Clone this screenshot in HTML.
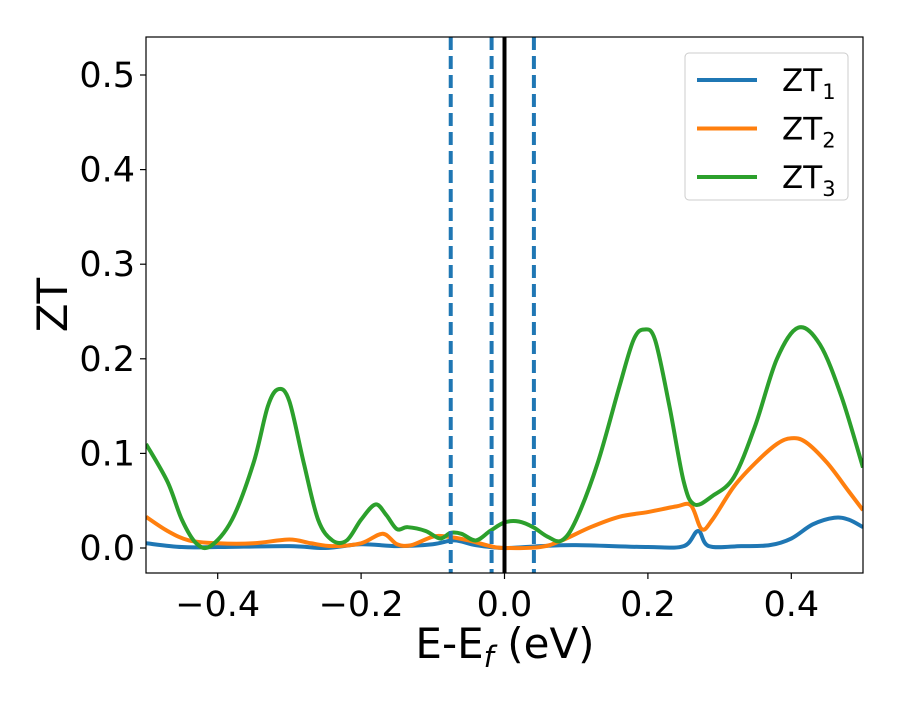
<!DOCTYPE html>
<html><head><meta charset="utf-8"><style>
body{margin:0;background:#fff;}
svg text{font-family:"DejaVu Sans","Liberation Sans",sans-serif;}
</style></head><body>
<svg id="chart" width="900" height="700" xmlns="http://www.w3.org/2000/svg"></svg>
<script>
const xTicks=[-0.4,-0.2,0.0,0.2,0.4];
const xTickLabels=["\u22120.4","\u22120.2","0.0","0.2","0.4"];
const yTicks=[0,0.1,0.2,0.3,0.4,0.5];
const yTickLabels=["0.0","0.1","0.2","0.3","0.4","0.5"];
const vlines=[-0.075,-0.018,0.041];
const zt3X=[-0.5,-0.47,-0.45,-0.43,-0.41,-0.38,-0.35,-0.33,-0.315,-0.30,-0.28,-0.26,-0.24,-0.22,-0.20,-0.18,-0.165,-0.15,-0.135,-0.11,-0.09,-0.075,-0.06,-0.04,-0.02,0.0,0.02,0.04,0.06,0.08,0.10,0.13,0.16,0.18,0.195,0.21,0.23,0.25,0.265,0.29,0.32,0.35,0.38,0.41,0.44,0.47,0.5];
const zt3Y=[0.11,0.07,0.03,0.005,0.002,0.03,0.09,0.15,0.168,0.155,0.09,0.03,0.008,0.008,0.03,0.046,0.035,0.02,0.022,0.018,0.01,0.016,0.015,0.008,0.018,0.027,0.028,0.022,0.012,0.008,0.03,0.09,0.17,0.22,0.231,0.22,0.15,0.07,0.046,0.055,0.075,0.13,0.2,0.233,0.215,0.16,0.085];
const zt2X=[-0.5,-0.47,-0.44,-0.4,-0.35,-0.3,-0.27,-0.24,-0.2,-0.17,-0.15,-0.13,-0.1,-0.08,-0.05,-0.02,0,0.05,0.08,0.12,0.16,0.2,0.24,0.26,0.275,0.29,0.32,0.35,0.38,0.4,0.42,0.45,0.48,0.5];
const zt2Y=[0.033,0.018,0.008,0.005,0.005,0.009,0.005,0.002,0.005,0.015,0.004,0.003,0.012,0.012,0.008,0.002,0.0,0.001,0.008,0.022,0.033,0.038,0.044,0.045,0.02,0.03,0.065,0.09,0.11,0.116,0.112,0.09,0.06,0.04];
const zt1X=[-0.5,-0.45,-0.4,-0.3,-0.25,-0.2,-0.15,-0.1,-0.07,-0.04,0,0.05,0.1,0.2,0.25,0.27,0.285,0.33,0.37,0.4,0.43,0.46,0.48,0.5];
const zt1Y=[0.005,0.001,0.001,0.002,0.0,0.004,0.002,0.004,0.008,0.003,0.0,0.002,0.003,0.001,0.002,0.018,0.002,0.002,0.003,0.01,0.025,0.032,0.03,0.022];
const L=146,R=863,T=37,B=573;
const sx=v=>L+(v+0.5)*(R-L);
const sy=v=>548-v*946;
const svg=document.getElementById('chart');
const NS='http://www.w3.org/2000/svg';
function mk(tag,attrs,parent){const e=document.createElementNS(NS,tag);for(const k in attrs)e.setAttribute(k,attrs[k]);(parent||svg).appendChild(e);return e;}
const clip=mk('clipPath',{id:'clip'});mk('rect',{x:L,y:T,width:R-L,height:B-T},clip);
function pathFor(xs,ys){const p=xs.map((x,i)=>[sx(x),sy(ys[i])]);let d='M'+p[0][0]+','+p[0][1];
for(let i=0;i<p.length-1;i++){const p0=p[i-1]||p[i],p1=p[i],p2=p[i+1],p3=p[i+2]||p2;
d+=' C'+(p1[0]+(p2[0]-p0[0])/6)+','+(p1[1]+(p2[1]-p0[1])/6)+' '+(p2[0]-(p3[0]-p1[0])/6)+','+(p2[1]-(p3[1]-p1[1])/6)+' '+p2[0]+','+p2[1];}return d;}
const g=mk('g',{'clip-path':'url(#clip)'});
const series=[[zt1X,zt1Y,'#1f77b4','zt1-line'],[zt2X,zt2Y,'#ff7f0e','zt2-line'],[zt3X,zt3Y,'#2ca02c','zt3-line']];
series.forEach(s=>{const e=mk('path',{d:pathFor(s[0],s[1]),fill:'none',stroke:s[2],'stroke-width':4},g);
});
vlines.forEach(v=>{const e=mk('line',{x1:sx(v),x2:sx(v),y1:T,y2:B,stroke:'#1f77b4','stroke-width':4,'stroke-dasharray':'13,6'},g);
});
const fl=mk('line',{x1:sx(0),x2:sx(0),y1:T,y2:B,stroke:'#000','stroke-width':4},g);

const fr=mk('rect',{x:L,y:T,width:R-L,height:B-T,fill:'none',stroke:'#000','stroke-width':1.2});

xTicks.forEach((v,i)=>{mk('line',{x1:sx(v),x2:sx(v),y1:B,y2:B+6,stroke:'#000','stroke-width':1.2});
const t=mk('text',{x:sx(v),y:B+43,'font-size':35,'text-anchor':'middle'});t.textContent=xTickLabels[i];
});
yTicks.forEach((v,i)=>{mk('line',{x1:L-6,x2:L,y1:sy(v),y2:sy(v),stroke:'#000','stroke-width':1.2});
const t=mk('text',{x:L-11,y:sy(v)+12,'font-size':35,'text-anchor':'end'});t.textContent=yTickLabels[i];
});
const xt=mk('text',{x:505,y:658,'font-size':42,'text-anchor':'middle'});
xt.innerHTML='E-E<tspan font-style="italic" font-size="29" dy="9">f</tspan><tspan dy="-9"> (eV)</tspan>';

const yt=mk('text',{x:67,y:305,'font-size':42,'text-anchor':'middle',transform:'rotate(-90 67 305)'});yt.textContent='ZT';

const lg=mk('g',{});
mk('rect',{x:685,y:53,width:163,height:147,rx:4,fill:'#fff',stroke:'#ccc','stroke-width':1},lg);
series.forEach((s,i)=>{const y=80+i*48.5;
const eg=mk('g',{},lg);
mk('line',{x1:697,x2:757,y1:y,y2:y,stroke:s[2],'stroke-width':4},eg);
const t=mk('text',{x:782,y:y+11,'font-size':31},eg);t.innerHTML='ZT<tspan font-size="21" dy="8">'+(i+1)+'</tspan>';});
</script>
</body></html>
